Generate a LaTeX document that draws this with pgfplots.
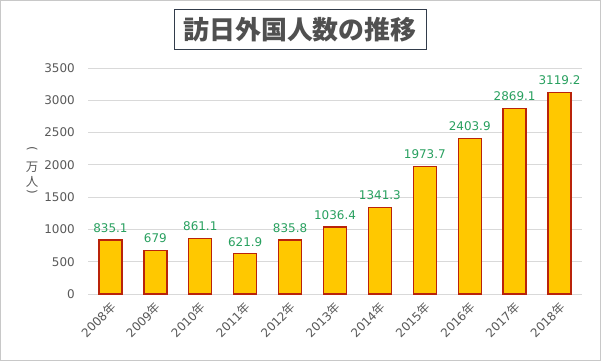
\documentclass[border=0pt]{standalone}
\usepackage{pgfplots}
\pgfplotsset{compat=1.18}
\usepackage{fontspec}
\setmainfont{DejaVu Sans}
\newfontfamily\cjk{Noto Sans CJK JP}
\definecolor{gridgray}{RGB}{217,217,217}
\definecolor{labgray}{RGB}{89,89,89}
\definecolor{titlegray}{RGB}{80,80,80}
\definecolor{titleborder}{RGB}{50,60,75}
\definecolor{bordergray}{RGB}{200,200,200}
\definecolor{barred}{RGB}{185,35,10}
\definecolor{barmid}{RGB}{255,200,0}
\definecolor{valgreen}{RGB}{40,160,95}
\pgfplotstableread{
x y label
0 835.1 835.1
1 679 679
2 861.1 861.1
3 621.9 621.9
4 835.8 835.8
5 1036.4 1036.4
6 1341.3 1341.3
7 1973.7 1973.7
8 2403.9 2403.9
9 2869.1 2869.1
10 3119.2 3119.2
}\datatable
\begin{document}
\begin{tikzpicture}
\useasboundingbox (0bp,0bp) rectangle (601bp,361bp);
\fill[white] (0bp,0bp) rectangle (601bp,361bp);
\draw[bordergray, line width=1bp] (0.5bp,0.5bp) rectangle (600.5bp,360.5bp);
\node[draw=titleborder, line width=1bp, minimum width=252bp, minimum height=40bp, inner sep=0pt, text=titlegray, font=\cjk\fontsize{26}{26}\selectfont\bfseries] at (300bp,331bp) {訪日外国人数の推移};
\begin{scope}[every node/.style={text=labgray, inner sep=0pt, font=\fontsize{12}{12}\selectfont}]
\node[rotate=-90] at (32bp,212bp) {(};
\node[font=\cjk\fontsize{12.5}{12}\selectfont] at (32bp,194bp) {万};
\node[font=\cjk\fontsize{12.5}{12}\selectfont] at (32bp,179bp) {人};
\node[rotate=-90] at (32bp,169bp) {)};
\end{scope}
\begin{axis}[
  at={(88bp,67bp)}, anchor=south west,
  scale only axis, width=494bp, height=226bp,
  xmin=-0.5, xmax=10.5, ymin=0, ymax=3500,
  ytick={0,500,...,3500},
  xtick={0,...,10},
  xticklabels={2008{\cjk 年},2009{\cjk 年},2010{\cjk 年},2011{\cjk 年},2012{\cjk 年},2013{\cjk 年},2014{\cjk 年},2015{\cjk 年},2016{\cjk 年},2017{\cjk 年},2018{\cjk 年}},
  axis line style={draw=none},
  major tick length=0pt,
  ymajorgrids,
  grid style={gridgray, line width=0.8bp},
  /pgf/number format/assume math mode=true,
  /pgf/number format/1000 sep={},
  tick label style={text=labgray, font=\fontsize{12}{14}\selectfont},
  yticklabel style={anchor=east, inner sep=0pt, xshift=-13bp},
  xticklabel style={xshift=3bp, yshift=-11bp, rotate=45, anchor=east, inner sep=0pt},
  clip=false,
]
\addplot[ybar, bar width=23bp, draw=barred, line width=1.3bp, fill=barmid,
  nodes near coords, point meta=explicit symbolic,
  every node near coord/.append style={text=valgreen, font=\fontsize{12}{14}\selectfont, inner sep=0pt, anchor=south, yshift=7bp}]
  table[x=x, y=y, meta=label] {\datatable};
\end{axis}
\end{tikzpicture}
\end{document}
